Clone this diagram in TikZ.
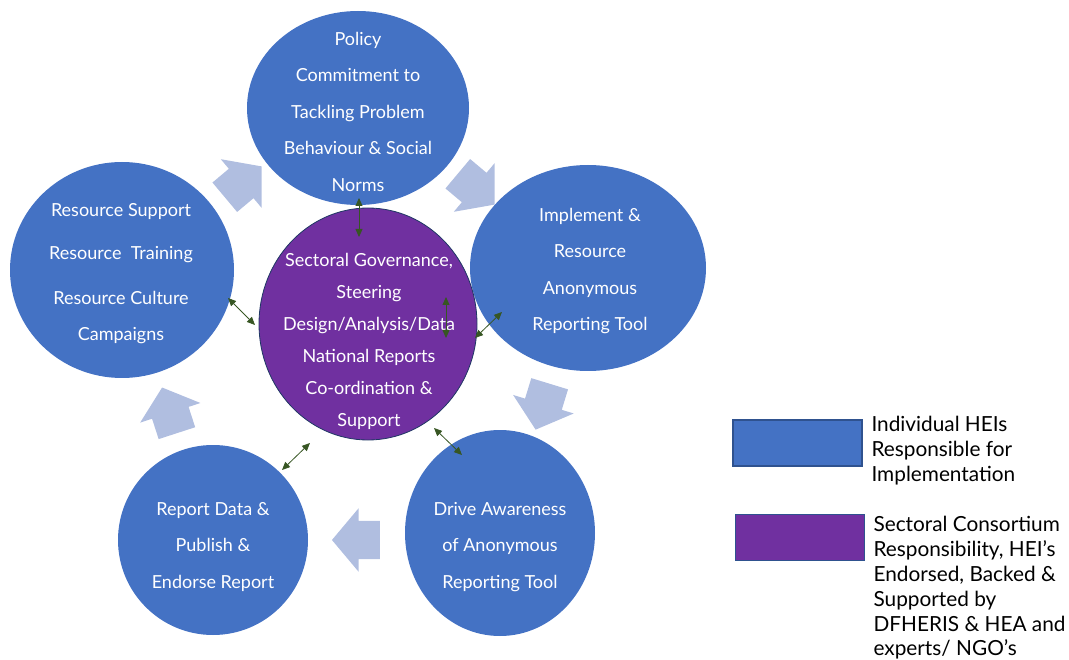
\documentclass[tikz,border=0pt]{standalone}
\usepackage{fontspec}
\setmainfont{Lato}
\usepackage{xcolor}
\definecolor{heiblue}{HTML}{4472C4}
\definecolor{consortium}{HTML}{7030A0}
\definecolor{flowblue}{HTML}{B0BEE0}
\definecolor{linkgreen}{HTML}{375623}
\definecolor{rimnavy}{HTML}{1F3864}
\definecolor{boxrim}{HTML}{2F528F}
\usetikzlibrary{arrows.meta,positioning,shapes.geometric,shapes.arrows}
\tikzset{
  %% ellipses of the cycle
  heistage/.style={ellipse, fill=heiblue, draw=none, inner sep=0pt},
  hubstage/.style={ellipse, fill=consortium, draw=rimnavy, line width=0.8pt, inner sep=0pt},
  stagetext/.style={text=white, align=center, font=\fontsize{18}{36.5}\selectfont},
  %% block arrows between the stages
  flowarrow/.style={single arrow, fill=flowblue, draw=none,
    inner xsep=0pt, inner ysep=19pt,
    minimum height=48, single arrow head extend=12.5,
    single arrow tip angle=100},
  %% two-way links to the hub
  twoway/.style={linkgreen, line width=0.8pt,
    {Triangle[length=8pt,width=7pt]}-{Triangle[length=8pt,width=7pt]}},
  legendbox/.style={rectangle, draw=boxrim, line width=1.2pt, inner sep=0pt,
    minimum width=129, minimum height=46},
  legendtext/.style={anchor=north west, align=left, text=black,
    font=\fontsize{20.8}{24.8}\selectfont},
}
\begin{document}
\begin{tikzpicture}[x=1pt, y=-1pt]
  \useasboundingbox (0,0) rectangle (1069,660);
  %% stages
  \node[heistage, minimum width=222, minimum height=194] (policy)  at (358,108) {};
  \node[heistage, minimum width=236, minimum height=206] (report)  at (588,268) {};
  \node[heistage, minimum width=224, minimum height=216] (support) at (122,270) {};
  \node[heistage, minimum width=190, minimum height=206] (aware)   at (500,533) {};
  \node[heistage, minimum width=190, minimum height=190] (publish) at (213,540) {};
  \node[hubstage, minimum width=218, minimum height=232] (hub)     at (368,324) {};
  %% stage texts
  \node[stagetext] (policytxt) at (358,111.5)
    {Policy\\Commitment to\\Tackling Problem\\Behaviour \& Social\\Norms};
  \node[stagetext] (reporttxt) at (590,271)
    {Implement \&\\Resource\\Anonymous\\Reporting Tool};
  \node[stagetext] (supporttxt) at (121,273.5)
    {Resource Support\\[7pt]Resource\ \ Training\\[8pt]Resource Culture\\Campaigns};
  \node[stagetext] (awaretxt) at (500,547)
    {Drive Awareness\\of Anonymous\\Reporting Tool};
  \node[stagetext] (publishtxt) at (213,547)
    {Report Data \&\\Publish \&\\Endorse Report};
  \node[stagetext, font=\fontsize{18}{32}\selectfont] (hubtxt) at (369,341.5)
    {Sectoral Governance,\\Steering\\Design/Analysis/Data\\National Reports\\Co-ordination \&\\Support};
  %% cycle arrows
  \node[flowarrow, rotate=40]  (flowa) at (237,187) {};
  \node[flowarrow, rotate=-40] (flowb) at (470,184) {};
  \node[flowarrow, rotate=253] (flowc) at (545,399) {};
  \node[flowarrow, rotate=180] (flowd) at (364,540) {};
  \node[flowarrow, rotate=108] (flowe) at (172,418) {};
  %% link ends
  \coordinate (pa) at (359,198);  \coordinate (pb) at (359,237);
  \coordinate (ha) at (446,297);  \coordinate (hb) at (446,338);
  \coordinate (ra) at (502,312);  \coordinate (rb) at (475,338);
  \coordinate (sa) at (228,298);  \coordinate (sb) at (255,325);
  \coordinate (la) at (310,443);  \coordinate (lb) at (282,470);
  \coordinate (wa) at (434,428);  \coordinate (wb) at (462,455);
  \draw[twoway] (pa) -- (pb);
  \draw[twoway] (ha) -- (hb);
  \draw[twoway] (ra) -- (rb);
  \draw[twoway] (sa) -- (sb);
  \draw[twoway] (la) -- (lb);
  \draw[twoway] (wa) -- (wb);
  %% legend
  \node[legendbox, fill=heiblue]    (keyhei) at (797.5,443) {};
  \node[legendbox, fill=consortium] (keyhub) at (800,537.5) {};
  \node[legendtext] (keyheitxt) at (868,413)
    {Individual HEIs\\Responsible for\\Implementation};
  \node[legendtext] (keyhubtxt) at (870,513)
    {Sectoral Consortium\\Responsibility, HEI's\\Endorsed, Backed \&\\Supported by\\DFHERIS \& HEA and\\experts/ NGO's};
\end{tikzpicture}
\end{document}
